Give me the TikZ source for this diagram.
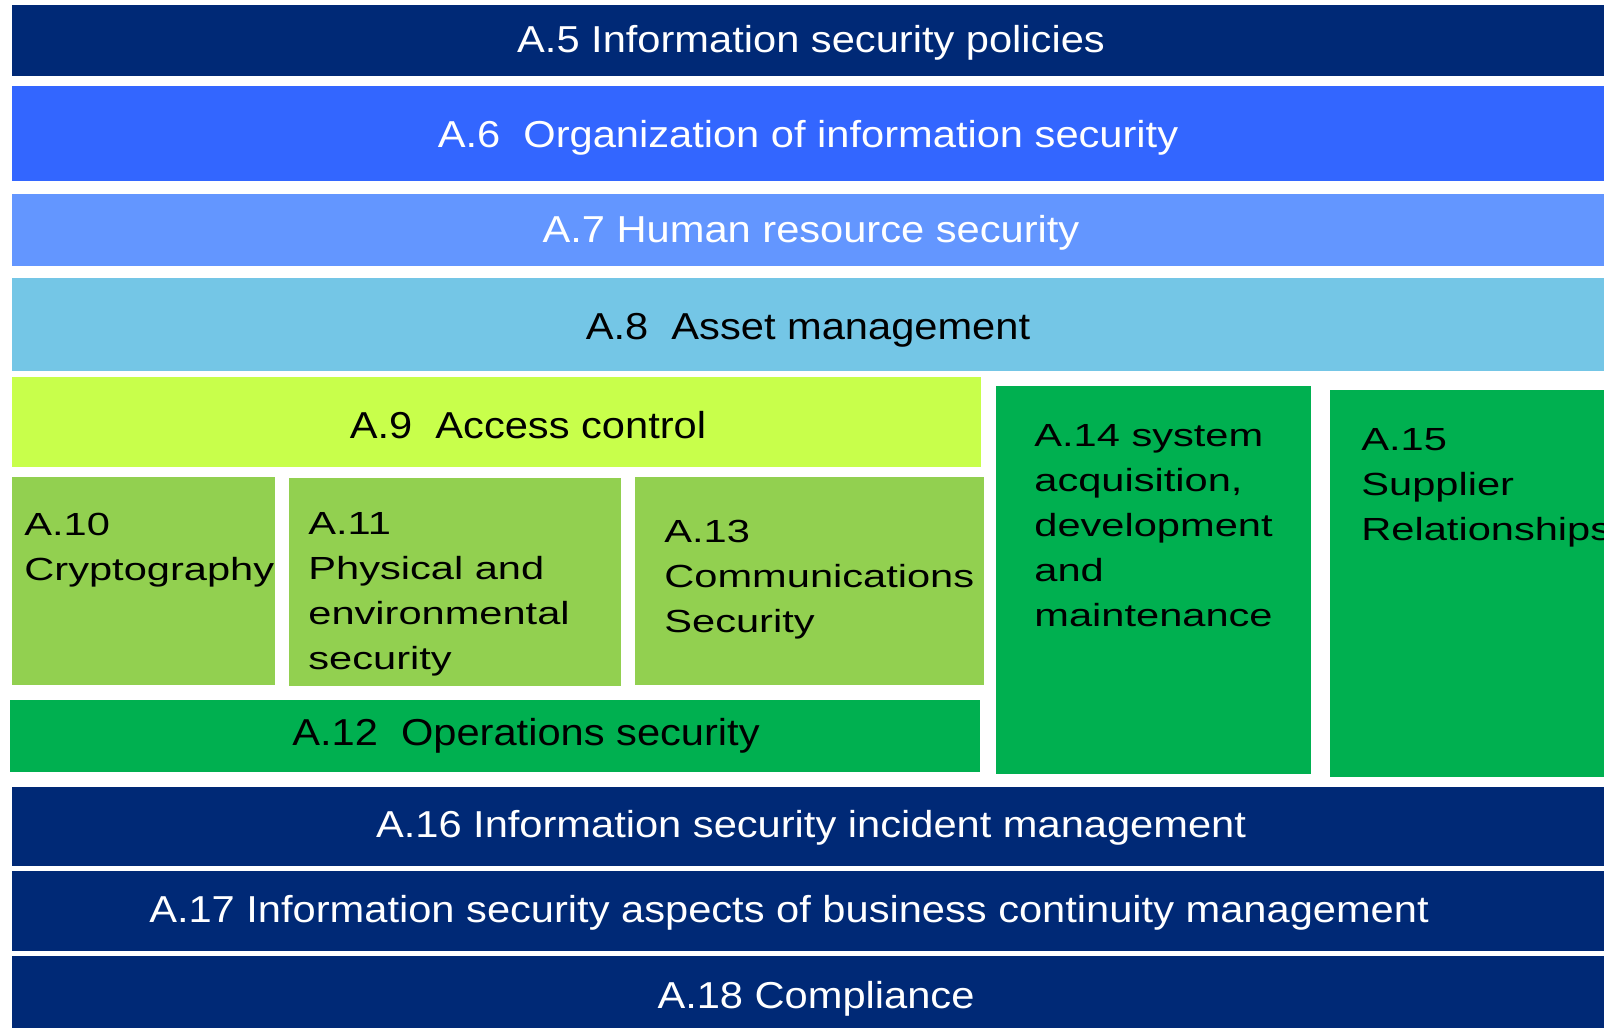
\documentclass[tikz,border=0pt]{standalone}
\usepackage{fontspec}
\setmainfont{Liberation Sans}
\newfontfamily\bandfont[FakeStretch=1.11]{Liberation Sans}
\newfontfamily\cellfont[FakeStretch=1.30]{Liberation Sans}
\usepackage{tikz}

\definecolor{navy}{RGB}{0,41,118}
\definecolor{royal}{RGB}{51,102,255}
\definecolor{cornflower}{RGB}{99,150,255}
\definecolor{sky}{RGB}{116,198,230}
\definecolor{lime}{RGB}{200,255,75}
\definecolor{leaf}{RGB}{146,208,80}
\definecolor{emerald}{RGB}{0,176,80}

\begin{document}
\begin{tikzpicture}[x=0.5pt,y=-0.5pt,
  bandtext/.style={inner sep=0pt,anchor=base,font=\bandfont\fontsize{18.75}{22}\selectfont},
  celltext/.style={inner sep=0pt,anchor=base west,align=left,font=\cellfont\fontsize{16}{22.5}\selectfont}]
\useasboundingbox (0,0) rectangle (1604,1028);

% full-width bands on top
\fill[navy] (12,5) rectangle (1604,76);
\fill[royal] (12,86) rectangle (1604,181);
\fill[cornflower] (12,194) rectangle (1604,266);
\fill[sky] (12,278) rectangle (1604,371);

% middle block
\fill[lime] (12,377) rectangle (981,467);
\fill[leaf] (12,477) rectangle (275,685);
\fill[leaf] (289,478) rectangle (621,686);
\fill[leaf] (635,477) rectangle (984,685);
\fill[emerald] (10,700) rectangle (980,772);
\fill[emerald] (996,386) rectangle (1311,774);
\fill[emerald] (1330,390) rectangle (1604,777);

% full-width bands at the bottom
\fill[navy] (12,787) rectangle (1604,866);
\fill[navy] (12,871) rectangle (1604,951);
\fill[navy] (12,956) rectangle (1604,1028);

% labels (cell labels sit on the baseline of their last line)
\node[bandtext,text=white] (a5) at (811,52) {A.5 Information security policies};
\node[bandtext,text=white] (a6) at (808,147) {A.6\ \ Organization of information security};
\node[bandtext,text=white] (a7) at (811,242) {A.7 Human resource security};
\node[bandtext] (a8) at (808,339) {A.8\ \ Asset management};
\node[bandtext] (a9) at (528,438) {A.9\ \ Access control};
\node[celltext] (a10) at (24,580) {A.10\\Cryptography};
\node[celltext] (a11) at (308,669) {A.11\\Physical and\\environmental\\security};
\node[celltext] (a13) at (664,632) {A.13\\Communications\\Security};
\node[bandtext] (a12) at (526,745) {A.12\ \ Operations security};
\node[celltext] (a14) at (1034,626) {A.14 system\\acquisition,\\development\\and\\maintenance};
\node[celltext] (a15) at (1361,540) {A.15\\Supplier\\Relationships};
\node[bandtext,text=white] (a16) at (811,837) {A.16 Information security incident management};
\node[bandtext,text=white] (a17) at (789,922) {A.17 Information security aspects of business continuity management};
\node[bandtext,text=white] (a18) at (816,1008) {A.18 Compliance};
\end{tikzpicture}
\end{document}
